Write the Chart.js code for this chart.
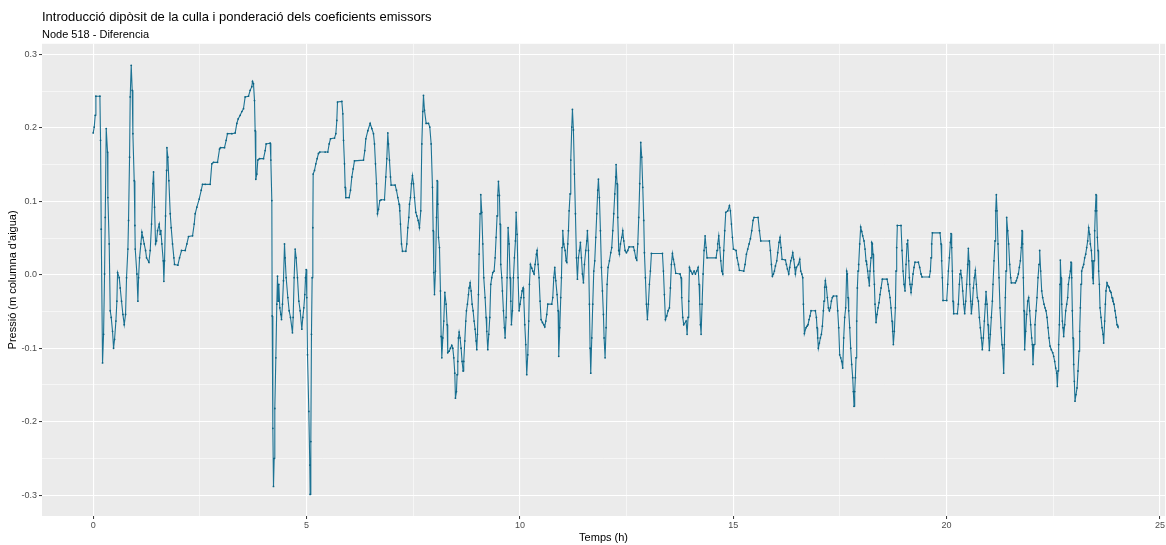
<!DOCTYPE html>
<html>
<head>
<meta charset="utf-8">
<script src="https://cdn.jsdelivr.net/npm/chart.js@4.4.1/dist/chart.umd.min.js"></script>
<style>
  html, body { margin: 0; padding: 0; background: #ffffff; overflow: hidden; }
  #wrap { position: relative; width: 1166px; height: 545px; }
</style>
</head>
<body>
<div id="wrap"><canvas id="c"></canvas></div>
<script>
// ---- Data (time in hours, pressure difference in m of water column) ----
const timeA = [0.000,0.024,0.047,0.063,0.157,0.172,0.188,0.219,0.243,0.266,
  0.282,0.305,0.336,0.344,0.375,0.399,0.422,0.453,0.477,0.500,
  0.532,0.555,0.571,0.610,0.633,0.664,0.696,0.727,0.758,0.781,
  0.813,0.828,0.852,0.867,0.891,0.914,0.930,0.961,0.977,0.985,
  1.024,1.047,1.063,1.086,1.117,1.141,1.164,1.195,1.227,1.250,
  1.305,1.336,1.367,1.399,1.414,1.438,1.461,1.484,1.508,1.547,
  1.570,1.586,1.609,1.641,1.656,1.672,1.695,1.719,1.727,1.750,
  1.773,1.805,1.828,1.859,1.891,1.906,1.984,2.023,2.070,2.156,
  2.195,2.234,2.328,2.367,2.390,2.429,2.484,2.531,2.562];
const diffA = [0.193,0.201,0.217,0.243,0.243,0.183,0.062,-0.120,-0.081,0.001,
  0.078,0.199,0.167,0.105,0.042,-0.049,-0.058,-0.077,-0.100,-0.088,
  -0.063,-0.036,0.003,-0.004,-0.018,-0.036,-0.054,-0.068,-0.054,-0.004,
  0.035,0.074,0.160,0.242,0.285,0.251,0.192,0.128,0.067,0.035,
  0.001,-0.036,-0.004,0.023,0.042,0.058,0.051,0.042,0.033,0.023,
  0.017,0.033,0.069,0.124,0.140,0.092,0.042,0.046,0.060,0.069,
  0.055,0.060,0.042,0.019,-0.009,0.019,0.080,0.142,0.173,0.160,
  0.128,0.083,0.064,0.042,0.023,0.014,0.013,0.023,0.033,0.033,
  0.042,0.052,0.053,0.069,0.083,0.092,0.103,0.115,0.123];

const timeB = [2.624,2.741,2.780,2.819,2.913,2.960,2.983,3.077,3.116,3.147,
  3.249,3.327,3.366,3.397,3.444,3.483,3.522,3.561,3.639,3.678,
  3.717,3.733,3.756,3.780,3.795,3.811,3.835,3.858,3.897,3.991,
  4.030,4.053,4.147,4.163,4.186,4.194,4.210,4.225,4.241,4.256,
  4.280,4.303,4.319,4.334,4.350,4.373,4.397,4.413,4.436,4.459,
  4.483,4.498,4.522,4.561,4.592,4.623,4.670,4.686,4.709,4.733,
  4.756,4.787,4.819,4.850,4.889,4.912,4.936,4.959,4.975,4.991,
  5.006,5.022,5.053,5.076,5.084,5.100,5.115,5.131,5.147,5.155,
  5.186,5.217,5.248,5.279,5.311];
const diffB = [0.123,0.123,0.151,0.153,0.153,0.171,0.173,0.173,0.183,0.192,
  0.192,0.193,0.206,0.212,0.217,0.222,0.226,0.242,0.243,0.251,
  0.256,0.263,0.260,0.237,0.196,0.130,0.137,0.156,0.158,0.158,
  0.169,0.178,0.179,0.156,0.101,-0.056,-0.209,-0.288,-0.250,-0.182,
  -0.113,-0.040,-0.002,-0.036,-0.013,-0.045,-0.054,-0.061,-0.040,-0.008,
  0.042,0.023,-0.004,-0.031,-0.049,-0.058,-0.079,-0.058,-0.004,0.035,
  0.023,-0.004,-0.036,-0.049,-0.074,-0.058,-0.045,-0.027,-0.004,0.007,
  -0.031,-0.109,-0.186,-0.259,-0.299,-0.227,-0.081,-0.004,0.064,0.137,
  0.142,0.151,0.158,0.165,0.167];

const timeC = [5.436,5.498,5.530,5.561,5.655,5.686,5.709,5.725,5.827,5.850,
  5.866,5.889,5.905,5.920,5.998,6.030,6.061,6.092,6.123,6.334,
  6.365,6.389,6.436,6.490,6.529,6.568,6.592,6.615,6.639,6.662,
  6.686,6.717,6.748,6.826,6.857,6.881,6.904,6.920,6.943,6.967,
  6.982,7.076,7.107,7.139,7.170,7.185,7.201,7.225,7.248,7.326,
  7.349,7.373,7.396,7.412,7.435,7.459,7.482,7.506,7.529,7.560,
  7.584,7.615,7.646,7.677,7.701,7.724,7.740,7.763,7.803,7.857,
  7.888,7.920,7.951,7.967,7.982,7.998,8.021,8.045,8.060,8.076,
  8.092,8.115,8.138,8.154,8.170,8.193,8.216,8.240];
const diffC = [0.167,0.167,0.178,0.185,0.186,0.192,0.210,0.235,0.236,0.219,
  0.183,0.151,0.119,0.105,0.105,0.115,0.133,0.144,0.155,0.156,
  0.169,0.185,0.196,0.206,0.199,0.192,0.178,0.151,0.124,0.083,
  0.089,0.101,0.102,0.102,0.133,0.158,0.193,0.178,0.156,0.133,
  0.122,0.122,0.115,0.105,0.096,0.087,0.069,0.042,0.032,0.032,
  0.042,0.064,0.078,0.096,0.105,0.124,0.135,0.124,0.105,0.085,
  0.080,0.074,0.064,0.087,0.178,0.222,0.244,0.224,0.206,0.206,
  0.201,0.178,0.119,0.060,0.003,-0.027,0.005,0.078,0.128,0.096,
  0.051,0.037,-0.022,-0.084,-0.113,-0.086,-0.063,-0.024];

const timeD = [8.270,8.294,8.309,8.341,8.372,8.403,8.427,8.450,8.474,8.489,
  8.513,8.528,8.544,8.559,8.575,8.598,8.622,8.645,8.669,8.684,
  8.708,8.731,8.747,8.770,8.794,8.809,8.833,8.856,8.880,8.903,
  8.926,8.950,8.973,8.989,9.005,9.028,9.044,9.067,9.083,9.106,
  9.130,9.153,9.184,9.208,9.223,9.247,9.270,9.294,9.317,9.340,
  9.364,9.395,9.419,9.442,9.465,9.481,9.497,9.520,9.536,9.551,
  9.575,9.590,9.614,9.637,9.653,9.676,9.700,9.723,9.747,9.770,
  9.786,9.801,9.825,9.848,9.871,9.895,9.911,9.934,9.957,9.981,
  10.004,10.028,10.051,10.075,10.090,10.114,10.137,10.160,10.184,10.207,
  10.223,10.246,10.278,10.301,10.332,10.356,10.387,10.403,10.426,10.449,
  10.473,10.496,10.528,10.559,10.582,10.606,10.629,10.653,10.746,10.770,
  10.793,10.817,10.840,10.871,10.895,10.910,10.934,10.957,10.973,10.988,
  11.004,11.027];
const diffD = [-0.040,-0.068,-0.106,-0.104,-0.100,-0.096,-0.100,-0.113,-0.134,-0.168,
  -0.159,-0.136,-0.118,-0.086,-0.078,-0.086,-0.100,-0.118,-0.131,-0.118,
  -0.090,-0.063,-0.049,-0.040,-0.027,-0.018,-0.011,-0.022,-0.040,-0.049,
  -0.063,-0.074,-0.090,-0.102,-0.081,-0.027,0.028,0.083,0.109,0.085,
  0.042,-0.004,-0.031,-0.058,-0.077,-0.102,-0.081,-0.058,-0.013,-0.004,
  0.003,0.005,0.023,0.051,0.080,0.108,0.127,0.108,0.069,0.014,
  -0.004,-0.022,-0.049,-0.072,-0.086,-0.058,-0.004,0.064,0.042,-0.004,
  -0.036,-0.068,-0.049,-0.004,0.023,0.046,0.085,0.055,-0.004,-0.049,
  -0.040,-0.031,-0.022,-0.018,-0.031,-0.068,-0.095,-0.136,-0.109,-0.063,
  -0.013,0.014,0.009,0.005,0.001,0.014,0.028,0.033,0.014,-0.004,
  -0.036,-0.061,-0.065,-0.068,-0.071,-0.063,-0.054,-0.040,-0.040,-0.031,
  -0.004,0.010,-0.008,-0.027,-0.049,-0.111,-0.072,-0.031,-0.004,0.037,
  0.060,0.042];

const timeE = [11.059,11.082,11.098,11.121,11.137,11.153,11.176,11.192,11.215,11.231,
  11.254,11.278,11.301,11.325,11.348,11.371,11.395,11.418,11.442,11.465,
  11.489,11.512,11.543,11.567,11.582,11.606,11.629,11.645,11.660,11.684,
  11.707,11.731,11.754,11.778,11.801,11.824,11.840,11.863,11.887,11.910,
  11.934,11.957,11.973,11.996,12.020,12.043,12.066,12.098,12.129,12.152,
  12.176,12.199,12.223,12.246,12.254,12.277,12.293,12.316,12.332,12.356,
  12.387,12.410,12.434,12.465,12.496,12.527,12.559,12.660,12.683,12.715,
  12.738,12.762,12.785,12.808,12.832,12.855,12.879,12.902,12.918,12.941,
  12.965,12.988,13.011,13.035,13.058,13.082,13.340,13.363,13.386,13.410,
  13.441,13.472,13.504,13.527,13.550,13.574,13.597,13.621,13.652,13.753,
  13.777,13.792,13.816,13.839];
const diffE = [0.033,0.019,0.017,0.042,0.060,0.087,0.110,0.156,0.201,0.225,
  0.197,0.137,0.083,0.023,-0.006,0.023,0.033,0.044,0.023,0.001,
  -0.011,0.014,0.033,0.046,0.060,0.033,-0.040,-0.100,-0.134,-0.086,
  -0.040,0.005,0.019,0.051,0.083,0.115,0.130,0.105,0.060,0.010,
  -0.022,-0.054,-0.086,-0.113,-0.072,-0.013,0.010,0.019,0.030,0.037,
  0.060,0.083,0.110,0.133,0.150,0.124,0.078,0.033,0.028,0.042,
  0.051,0.060,0.046,0.033,0.030,0.033,0.038,0.038,0.033,0.023,
  0.020,0.042,0.078,0.124,0.180,0.160,0.119,0.074,0.030,-0.004,
  -0.040,-0.061,-0.040,-0.013,0.005,0.029,0.029,0.005,-0.027,-0.061,
  -0.056,-0.049,-0.045,-0.018,0.014,0.029,0.021,0.014,0.002,0.001,
  -0.004,-0.031,-0.058,-0.068];

const timeF = [13.894,13.918,13.941,13.957,13.973,14.004,14.043,14.082,14.113,14.144,
  14.176,14.199,14.215,14.230,14.246,14.269,14.293,14.316,14.340,14.363,
  14.386,14.597,14.621,14.636,14.660,14.683,14.707,14.730,14.754,14.777,
  14.800,14.824,14.871,14.910,14.933,14.957,14.980,15.003,15.066,15.089,
  15.121,15.144,15.246,15.277,15.308,15.339,15.371,15.402,15.433,15.464,
  15.488,15.581,15.613,15.644,15.847,15.870,15.894,15.917,15.941,15.964,
  15.988,16.019,16.042,16.073,16.097,16.120,16.144,16.222,16.245,16.269,
  16.300,16.323,16.347,16.370,16.394,16.417,16.441,16.456,16.480,16.526,
  16.558,16.581,16.605,16.628,16.644,16.667];
const diffF = [-0.063,-0.081,-0.058,-0.036,0.010,0.005,0.001,0.005,0.001,0.005,
  0.010,-0.013,-0.040,-0.068,-0.081,-0.040,0.001,0.033,0.053,0.037,
  0.023,0.023,0.033,0.042,0.053,0.037,0.019,0.005,0.001,0.033,
  0.060,0.085,0.087,0.094,0.087,0.069,0.051,0.035,0.033,0.023,
  0.014,0.006,0.005,0.014,0.028,0.035,0.042,0.049,0.060,0.074,
  0.078,0.078,0.060,0.046,0.046,0.033,0.014,-0.002,0.001,0.005,
  0.012,0.019,0.030,0.044,0.051,0.037,0.021,0.020,0.014,0.008,
  0.001,0.010,0.019,0.023,0.030,0.021,0.010,0.001,0.010,0.014,
  0.021,0.005,0.001,-0.004,-0.040,-0.080];

const timeG = [16.705,16.729,16.752,16.776,16.799,16.823,16.924,16.948,16.963,16.979,
  16.994,17.018,17.041,17.065,17.088,17.112,17.127,17.143,17.158,17.182,
  17.205,17.229,17.252,17.276,17.299,17.322,17.346,17.424,17.447,17.471,
  17.494,17.518,17.541,17.565,17.588,17.611,17.635,17.658,17.674,17.690,
  17.705,17.729,17.752,17.775,17.799,17.814,17.830,17.846,17.861,17.877,
  17.893,17.908,17.924,17.939,17.963,17.986,18.010,18.033,18.064,18.088,
  18.111,18.127,18.150,18.166,18.189,18.205,18.228,18.244,18.260,18.275,
  18.291,18.307,18.322,18.346,18.369,18.393,18.416,18.439,18.463,18.494,
  18.603,18.627,18.650,18.674,18.697,18.721,18.736,18.752,18.775,18.799,
  18.814,18.830,18.845,18.931,18.955,18.978,19.002,19.025,19.049,19.072,
  19.088,19.111,19.127,19.142,19.166,19.189,19.213,19.236,19.259,19.338,
  19.369,19.400,19.423];
const diffG = [-0.072,-0.070,-0.068,-0.061,-0.056,-0.049,-0.049,-0.058,-0.072,-0.086,
  -0.100,-0.093,-0.086,-0.081,-0.070,-0.049,-0.036,-0.017,-0.008,-0.017,
  -0.031,-0.045,-0.049,-0.045,-0.036,-0.031,-0.029,-0.029,-0.049,-0.072,
  -0.109,-0.113,-0.118,-0.127,-0.086,-0.058,-0.045,0.005,0.001,-0.031,
  -0.049,-0.072,-0.100,-0.122,-0.140,-0.159,-0.179,-0.159,-0.140,-0.113,
  -0.063,-0.018,0.005,0.014,0.042,0.065,0.059,0.053,0.046,0.035,
  0.019,0.014,0.005,-0.004,-0.015,0.005,0.023,0.044,0.042,0.028,
  0.005,-0.013,-0.040,-0.065,-0.054,-0.045,-0.038,-0.027,-0.018,-0.006,
  -0.006,-0.013,-0.022,-0.031,-0.045,-0.063,-0.077,-0.095,-0.077,-0.045,
  0.005,0.037,0.067,0.067,0.033,0.005,-0.013,-0.022,0.014,0.042,
  0.047,0.019,-0.004,-0.013,-0.024,-0.013,0.001,0.010,0.017,0.017,
  0.010,0.001,-0.003];

const timeH = [19.596,19.619,19.635,19.650,19.666,19.845,19.869,19.884,19.900,19.916,
  20.002,20.025,20.041,20.064,20.088,20.103,20.119,20.134,20.150,20.166,
  20.252,20.275,20.298,20.314,20.330,20.353,20.377,20.400,20.423,20.447,
  20.470,20.494,20.509,20.525,20.541,20.564,20.580,20.603,20.627,20.650,
  20.673,20.697,20.720,20.744,20.767,20.790,20.814,20.837,20.861,20.884,
  20.908,20.923,20.947,20.970,20.986,21.001,21.025,21.048,21.072,21.087,
  21.111,21.134,21.150,21.165,21.181,21.204,21.228,21.251,21.275,21.298,
  21.314,21.337,21.353,21.376,21.392,21.407,21.431,21.454,21.478,21.501,
  21.517,21.610,21.634,21.657,21.681,21.704,21.728,21.751,21.767,21.782,
  21.798,21.814,21.829,21.853,21.876,21.900,21.923,21.946,21.970,21.993,
  22.009,22.024,22.048,22.071,22.095,22.118,22.142,22.165,22.181,22.204,
  22.228,22.251,22.282];
const diffH = [-0.003,0.005,0.023,0.042,0.057,0.057,0.042,0.019,-0.004,-0.035,
  -0.035,-0.013,0.005,0.023,0.044,0.056,0.037,0.005,-0.036,-0.053,
  -0.053,-0.040,-0.013,0.001,0.006,-0.004,-0.022,-0.040,-0.053,-0.036,
  -0.013,0.014,0.036,0.019,-0.013,-0.036,-0.053,-0.040,-0.018,-0.004,
  0.006,-0.013,-0.031,-0.036,-0.058,-0.072,-0.086,-0.102,-0.086,-0.063,
  -0.040,-0.023,-0.040,-0.068,-0.086,-0.103,-0.081,-0.058,-0.036,-0.013,
  0.019,0.046,0.087,0.109,0.087,0.042,-0.004,-0.045,-0.072,-0.095,
  -0.100,-0.134,-0.095,-0.031,0.005,0.078,0.060,0.042,0.014,-0.004,
  -0.011,-0.011,-0.008,-0.004,0.001,0.010,0.019,0.037,0.060,0.042,
  -0.004,-0.049,-0.102,-0.077,-0.054,-0.036,-0.031,-0.049,-0.068,-0.086,
  -0.095,-0.122,-0.095,-0.068,-0.049,-0.031,-0.004,0.014,0.033,0.005,
  -0.022,-0.031,-0.040];

const timeI = [22.306,22.329,22.353,22.376,22.400,22.423,22.454,22.486,22.509,22.532,
  22.556,22.579,22.595,22.611,22.626,22.642,22.657,22.665,22.681,22.697,
  22.712,22.728,22.743,22.767,22.790,22.814,22.837,22.853,22.876,22.900,
  22.915,22.931,22.946,22.962,22.978,22.993,23.009,23.032,23.056,23.079,
  23.103,23.118,23.134,23.150,23.165,23.189,23.212,23.235,23.259,23.282,
  23.306,23.329,23.353,23.368,23.392,23.407,23.423,23.438,23.454,23.470,
  23.485,23.501,23.517,23.532,23.548,23.563,23.579,23.595,23.618,23.642,
  23.665,23.681,23.704,23.720,23.735,23.759,23.782,23.806,23.829,23.853,
  23.876,23.899,23.923,23.946,23.970,23.993,24.016];
const diffI = [-0.045,-0.049,-0.058,-0.072,-0.086,-0.097,-0.102,-0.106,-0.111,-0.118,
  -0.127,-0.134,-0.152,-0.131,-0.095,-0.068,-0.013,0.020,-0.004,-0.040,
  -0.063,-0.072,-0.084,-0.068,-0.049,-0.040,-0.031,-0.013,-0.004,0.005,
  0.017,-0.004,-0.049,-0.086,-0.122,-0.145,-0.172,-0.163,-0.154,-0.131,
  -0.104,-0.077,-0.045,-0.013,0.005,0.010,0.014,0.023,0.028,0.037,
  0.046,0.064,0.055,0.042,0.033,0.019,-0.004,-0.012,0.019,0.060,
  0.087,0.109,0.087,0.051,0.033,0.005,-0.013,-0.045,-0.058,-0.072,
  -0.081,-0.093,-0.063,-0.040,-0.022,-0.011,-0.015,-0.017,-0.022,-0.024,
  -0.031,-0.036,-0.040,-0.049,-0.058,-0.068,-0.071];

// ---- Axis ticks ----
const xTicks = [0, 2.5, 5, 7.5, 10, 12.5, 15, 17.5, 20, 22.5, 25];
const xMajor = [0, 5, 10, 15, 20, 25];
const yTicks = [-0.3, -0.25, -0.2, -0.15, -0.1, -0.05, 0, 0.05, 0.1, 0.15, 0.2, 0.25, 0.3];
const yMajor = [-0.3, -0.2, -0.1, 0, 0.1, 0.2, 0.3];

const titleText = 'Introducció dipòsit de la culla i ponderació dels coeficients emissors';
const subtitleText = 'Node 518 - Diferencia';
const xTitle = 'Temps (h)';
const yTitle = "Pressió (m columna d'aigua)";

// ---- Build points ----
const blocks = [[timeA,diffA],[timeB,diffB],[timeC,diffC],[timeD,diffD],[timeE,diffE],
                [timeF,diffF],[timeG,diffG],[timeH,diffH],[timeI,diffI]];
const points = [];
blocks.forEach(([t, v]) => {
  const n = Math.min(t.length, v.length);
  for (let i = 0; i < n; i++) points.push({ x: t[i], y: v[i] });
});

const isMajor = (val, list) => list.some(m => Math.abs(m - val) < 1e-9);
const FONT = "'Liberation Sans', Arial, sans-serif";

const panelBg = {
  id: 'panelBg',
  beforeDraw(chart) {
    const { ctx, chartArea: a } = chart;
    ctx.save();
    ctx.fillStyle = '#EBEBEB';
    ctx.fillRect(a.left, a.top, a.right - a.left, a.bottom - a.top);
    ctx.restore();
  }
};

new Chart(document.getElementById('c'), {
  type: 'scatter',
  data: {
    datasets: [{
      data: points,
      showLine: true,
      borderColor: '#1c7394',
      borderWidth: 1.1,
      pointRadius: 0.9,
      pointHoverRadius: 0,
      pointHitRadius: 0,
      pointBackgroundColor: '#0d6383',
      pointBorderWidth: 0,
      tension: 0
    }]
  },
  options: {
    responsive: true,
    maintainAspectRatio: false,
    animation: false,
    events: [],
    layout: { padding: { left: 0, right: 0, top: 0, bottom: 0 } },
    plugins: {
      legend: { display: false },
      tooltip: { enabled: false },
      title: {
        display: true, text: titleText, align: 'start', fullSize: false,
        color: '#000000', font: { family: FONT, size: 13, weight: 'normal' },
        padding: { top: 10, bottom: 3 }
      },
      subtitle: {
        display: true, text: subtitleText, align: 'start', fullSize: false,
        color: '#000000', font: { family: FONT, size: 11, weight: 'normal' },
        padding: { top: 0, bottom: 2 }
      }
    },
    scales: {
      x: {
        type: 'linear', min: -1.2, max: 25.12,
        afterBuildTicks: (s) => { s.ticks = xTicks.map(v => ({ value: v })); },
        afterFit: (s) => { s.height = 29; s.paddingLeft = 0; s.paddingRight = 0; },
        border: { display: false },
        grid: {
          color: '#ffffff',
          lineWidth: (c) => (c.tick && isMajor(c.tick.value, xMajor)) ? 1.1 : 0.55,
          tickColor: (c) => (c.tick && isMajor(c.tick.value, xMajor)) ? '#333333' : 'rgba(0,0,0,0)',
          tickLength: 3, tickWidth: 1
        },
        ticks: {
          color: '#4D4D4D', font: { family: FONT, size: 9 }, padding: 1,
          maxRotation: 0, autoSkip: false,
          callback: (v) => isMajor(v, xMajor) ? String(Math.round(v)) : ''
        },
        title: {
          display: true, text: xTitle, color: '#000000',
          font: { family: FONT, size: 11 }, padding: { top: 0, bottom: 0 }
        }
      },
      y: {
        type: 'linear', min: -0.3283, max: 0.3143,
        afterBuildTicks: (s) => { s.ticks = yTicks.map(v => ({ value: v })); },
        afterFit: (s) => { s.width = 42; s.paddingTop = 0; s.paddingBottom = 0; },
        border: { display: false },
        grid: {
          color: '#ffffff',
          lineWidth: (c) => (c.tick && isMajor(c.tick.value, yMajor)) ? 1.1 : 0.55,
          tickColor: (c) => (c.tick && isMajor(c.tick.value, yMajor)) ? '#333333' : 'rgba(0,0,0,0)',
          tickLength: 3, tickWidth: 1
        },
        ticks: {
          color: '#4D4D4D', font: { family: FONT, size: 9 }, padding: 2, autoSkip: false,
          callback: (v) => isMajor(v, yMajor) ? (Math.abs(v) < 1e-9 ? '0.0' : v.toFixed(1)) : ''
        },
        title: {
          display: true, text: yTitle, color: '#000000',
          font: { family: FONT, size: 11 }, padding: { top: 6, bottom: 0 }
        }
      }
    }
  },
  plugins: [panelBg]
});
</script>
</body>
</html>
